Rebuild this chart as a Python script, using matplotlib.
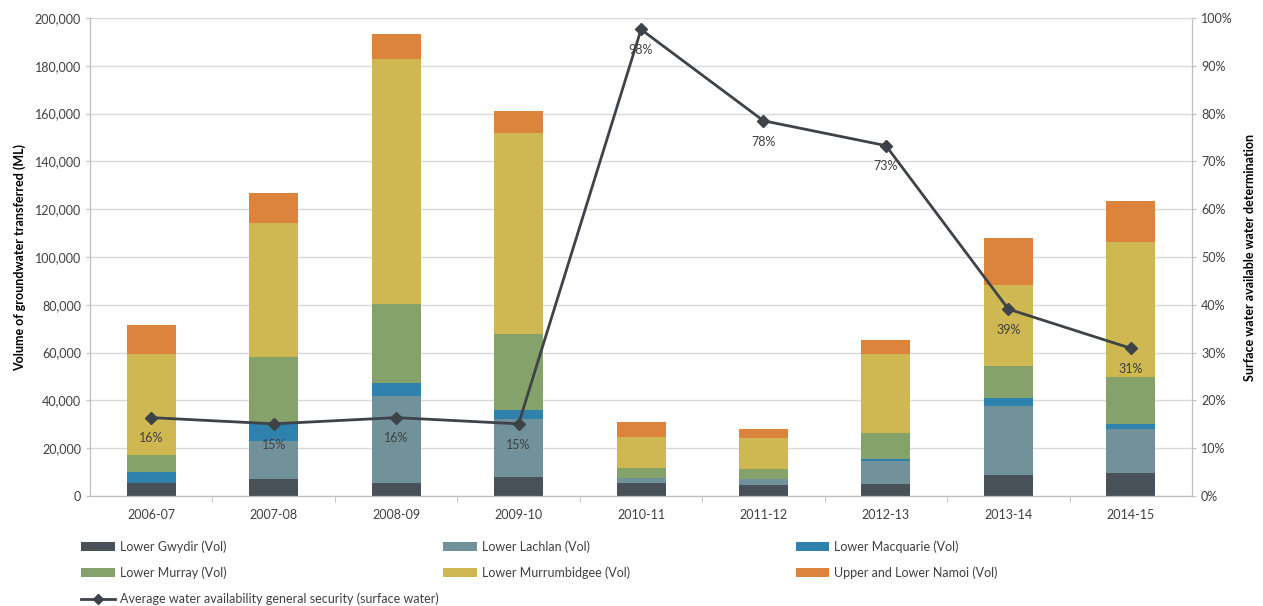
import matplotlib
matplotlib.use("Agg")
import matplotlib.pyplot as plt
import matplotlib.ticker as mticker
from matplotlib.patches import Patch
from matplotlib.lines import Line2D
import numpy as np

plt.rcParams['font.family'] = ['Lato', 'DejaVu Sans']

years = ['2006-07', '2007-08', '2008-09', '2009-10', '2010-11',
         '2011-12', '2012-13', '2013-14', '2014-15']

# volumes (ML)
gwydir = [5600, 7000, 5400, 8100, 5300, 4500, 4900, 8800, 9500]
lachlan = [0, 16200, 36400, 24300, 2200, 2800, 9800, 28900, 18700]
macquarie = [4300, 7200, 5400, 3500, 0, 0, 700, 3500, 1800]
murray = [7400, 27800, 33000, 31800, 4200, 4000, 11000, 13000, 19800]
murrumbidgee = [42000, 56000, 102500, 84000, 13000, 12800, 32900, 34000, 56400]
namoi = [12300, 12500, 10600, 9500, 6300, 3900, 6000, 19900, 17400]

# general security allocation (%)
avail = [16.4, 15.1, 16.4, 15.1, 97.6, 78.5, 73.3, 39.1, 30.9]
avail_labels = ['16%', '15%', '16%', '15%', '98%', '78%', '73%', '39%', '31%']

series = [
    ('Lower Gwydir (Vol)', gwydir, '#4a5259'),
    ('Lower Lachlan (Vol)', lachlan, '#72929b'),
    ('Lower Macquarie (Vol)', macquarie, '#2e82ad'),
    ('Lower Murray (Vol)', murray, '#86a26b'),
    ('Lower Murrumbidgee (Vol)', murrumbidgee, '#cfb851'),
    ('Upper and Lower Namoi (Vol)', namoi, '#dc843c'),
]
line_name = 'Average water availability general security (surface water)'
line_col = '#3d4349'

fig = plt.figure(figsize=(12.63, 6.06), dpi=100)
ax = fig.add_axes([0.0713, 0.1815, 0.8725, 0.7888])
x = np.arange(len(years))

bottom = np.zeros(len(years))
for name, vals, col in series:
    ax.bar(x, vals, 0.4, bottom=bottom, color=col, zorder=2)
    bottom += np.array(vals)

ax.set_xlim(-0.5, len(years) - 0.5)
ax.set_ylim(0, 200000)
ax.yaxis.set_major_locator(mticker.MultipleLocator(20000))
ax.yaxis.set_major_formatter(mticker.FuncFormatter(lambda v, p: f'{int(v):,}'))
ax.grid(axis='y', color='#d9d9d9', linewidth=1, zorder=0)
ax.set_axisbelow(True)
ax.set_xticks(x)
ax.set_xticklabels(years)
ax.set_xticks(np.arange(0.5, len(years) - 0.5, 1), minor=True)
ax.tick_params(axis='x', which='major', length=0, pad=9)
ax.tick_params(axis='x', which='minor', length=4, color='#bfbfbf')
ax.tick_params(axis='y', length=3, color='#bfbfbf')
ax.tick_params(labelsize=9, labelcolor='#404040')
ax.spines['top'].set_visible(False)
for s in ['left', 'bottom', 'right']:
    ax.spines[s].set_color('#bfbfbf')
ax.set_ylabel('Volume of groundwater transferred (ML)', fontsize=9,
              fontweight='bold', color='#000000', labelpad=6)

ax2 = ax.twinx()
ax2.set_ylim(0, 100)
ax2.yaxis.set_major_locator(mticker.MultipleLocator(10))
ax2.yaxis.set_major_formatter(mticker.FuncFormatter(lambda v, p: f'{int(v)}%'))
ax2.tick_params(axis='y', length=3, color='#bfbfbf', labelsize=9, labelcolor='#404040')
ax2.spines['top'].set_visible(False)
for s in ['left', 'bottom', 'right']:
    ax2.spines[s].set_color('#bfbfbf')
ax2.plot(x, avail, color=line_col, linewidth=2, marker='D', markersize=6, zorder=3)
for xi, yi, lab in zip(x, avail, avail_labels):
    ax2.annotate(lab, (xi, yi), xytext=(0, -15), textcoords='offset points',
                 ha='center', va='center', fontsize=9, color='#404040')
ax2.set_ylabel('Surface water available water determination', fontsize=9,
               fontweight='bold', color='#000000', labelpad=8)

# legend laid out in three columns like the original
handles = [Patch(facecolor=c, label=n) for n, v, c in series]
line_handle = Line2D([], [], color=line_col, linewidth=2, marker='D',
                     markersize=5, label=line_name)
cols = [
    ([handles[0], handles[3], line_handle], 0.060),
    ([handles[1], handles[4]], 0.347),
    ([handles[2], handles[5]], 0.626),
]
for hs, xpos in cols:
    leg = fig.legend(handles=hs, loc='upper left', bbox_to_anchor=(xpos, 0.117),
                     frameon=False, fontsize=9, handlelength=2.7, handleheight=0.8,
                     handletextpad=0.4, labelspacing=1.1, borderaxespad=0)
    for t in leg.get_texts():
        t.set_color('#404040')

fig.savefig('out.png', dpi=100)
